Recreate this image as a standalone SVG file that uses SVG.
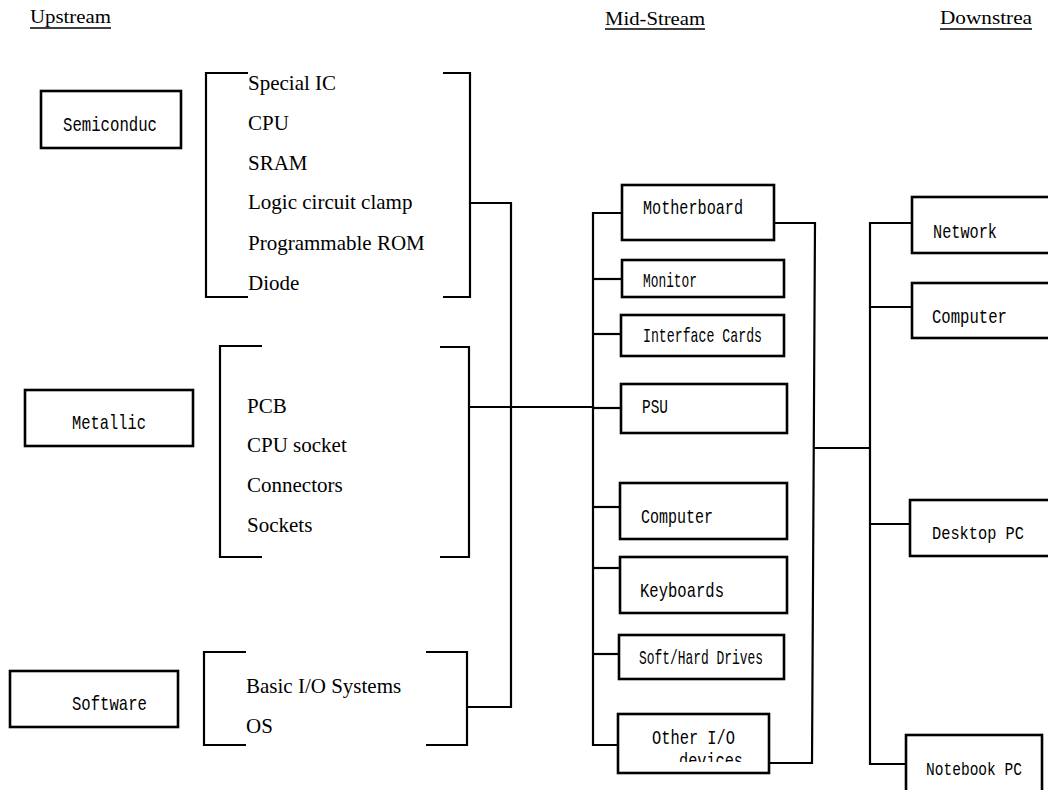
<svg xmlns="http://www.w3.org/2000/svg" width="1048" height="790" viewBox="0 0 1048 790">
  <defs>
    <style>
      .box { fill: #fff; stroke: #000; stroke-width: 2.6; }
      .wire { fill: none; stroke: #000; stroke-width: 2.2; }
      .brk { fill: none; stroke: #000; stroke-width: 2.2; }
      .mono { font-family: "Liberation Mono", "DejaVu Sans Mono", monospace; font-size: 21px; fill: #000; }
      .mono-edge { font-size: 18px; }
      .serif { font-family: "Liberation Serif", "Times New Roman", serif; font-size: 21px; fill: #000; }
      .head { font-family: "Liberation Serif", "Times New Roman", serif; font-size: 18px; fill: #000; }
      .uline { stroke: #000; stroke-width: 1.4; }
    </style>
    <clipPath id="clip-devices">
      <rect x="620" y="716" width="147" height="46"/>
    </clipPath>
  </defs>
  <rect width="1048" height="790" fill="#fff"/>

  <!-- column headings -->
  <g id="headings">
    <text class="head" x="30" y="23" textLength="81" lengthAdjust="spacingAndGlyphs">Upstream</text>
    <line class="uline" x1="30" y1="28" x2="111" y2="28"/>
    <text class="head" x="605" y="25" textLength="100" lengthAdjust="spacingAndGlyphs">Mid-Stream</text>
    <line class="uline" x1="605" y1="29" x2="705" y2="29"/>
    <text class="head" x="940" y="24" textLength="92" lengthAdjust="spacingAndGlyphs">Downstrea</text>
    <line class="uline" x1="940" y1="29" x2="1032" y2="29"/>
  </g>

  <!-- connectors -->
  <g id="connectors">
    <!-- semiconductor bracket -->
    <path class="brk" d="M248,73 H206 V297 H248"/>
    <path class="brk" d="M443,73 H470 V297 H443"/>
    <!-- metallic bracket -->
    <path class="brk" d="M262,346 H220 V557 H262"/>
    <path class="brk" d="M440,347 H469 V557 H440"/>
    <!-- software bracket -->
    <path class="brk" d="M246,652 H204 V745 H246"/>
    <path class="brk" d="M426,652 H467 V745 H426"/>
    <!-- upstream to mid-stream -->
    <path class="wire" d="M470,203 H511 V707 H467"/>
    <path class="wire" d="M469,407 H593"/>
    <!-- mid-stream left bus -->
    <path class="wire" d="M622,213 H593 V745 H618"/>
    <path class="wire" d="M593,279 H622"/>
    <path class="wire" d="M593,334 H621"/>
    <path class="wire" d="M593,408 H621"/>
    <path class="wire" d="M593,507 H620"/>
    <path class="wire" d="M593,568 H620"/>
    <path class="wire" d="M593,654 H619"/>
    <!-- mid-stream right bus -->
    <path class="wire" d="M774,223 H815 L812,763 H769"/>
    <path class="wire" d="M814,448 H870"/>
    <!-- downstream bus -->
    <path class="wire" d="M912,223 H870 V764 H906"/>
    <path class="wire" d="M870,307 H912"/>
    <path class="wire" d="M870,524 H910"/>
  </g>

  <!-- upstream -->
  <g id="node-semiconduc">
    <rect class="box" x="41" y="91" width="140" height="57"/>
    <text class="mono" x="63" y="131" textLength="94" lengthAdjust="spacingAndGlyphs">Semiconduc</text>
  </g>
  <g id="list-semiconduc">
    <text class="serif" x="248" y="90">Special IC</text>
    <text class="serif" x="248" y="130">CPU</text>
    <text class="serif" x="248" y="170">SRAM</text>
    <text class="serif" x="248" y="209">Logic circuit clamp</text>
    <text class="serif" x="248" y="250">Programmable ROM</text>
    <text class="serif" x="248" y="290">Diode</text>
  </g>
  <g id="node-metallic">
    <rect class="box" x="25" y="390" width="168" height="56"/>
    <text class="mono" x="72" y="429" textLength="74" lengthAdjust="spacingAndGlyphs">Metallic</text>
  </g>
  <g id="list-metallic">
    <text class="serif" x="247" y="413">PCB</text>
    <text class="serif" x="247" y="452">CPU socket</text>
    <text class="serif" x="247" y="492">Connectors</text>
    <text class="serif" x="247" y="532">Sockets</text>
  </g>
  <g id="node-software">
    <rect class="box" x="10" y="671" width="168" height="56"/>
    <text class="mono" x="72" y="710" textLength="75" lengthAdjust="spacingAndGlyphs">Software</text>
  </g>
  <g id="list-software">
    <text class="serif" x="246" y="693">Basic I/O Systems</text>
    <text class="serif" x="246" y="733">OS</text>
  </g>

  <!-- mid-stream -->
  <g id="node-motherboard">
    <rect class="box" x="622" y="185" width="152" height="55"/>
    <text class="mono" x="643" y="214" textLength="100" lengthAdjust="spacingAndGlyphs">Motherboard</text>
  </g>
  <g id="node-monitor">
    <rect class="box" x="622" y="260" width="162" height="37"/>
    <text class="mono" x="643" y="287" textLength="54" lengthAdjust="spacingAndGlyphs">Monitor</text>
  </g>
  <g id="node-interface-cards">
    <rect class="box" x="621" y="315" width="163" height="41"/>
    <text class="mono" x="643" y="342" textLength="119" lengthAdjust="spacingAndGlyphs">Interface Cards</text>
  </g>
  <g id="node-psu">
    <rect class="box" x="621" y="384" width="166" height="49"/>
    <text class="mono" x="642" y="413" textLength="26" lengthAdjust="spacingAndGlyphs">PSU</text>
  </g>
  <g id="node-computer-mid">
    <rect class="box" x="620" y="483" width="167" height="56"/>
    <text class="mono" x="641" y="523" textLength="72" lengthAdjust="spacingAndGlyphs">Computer</text>
  </g>
  <g id="node-keyboards">
    <rect class="box" x="620" y="557" width="167" height="56"/>
    <text class="mono" x="640" y="597" textLength="84" lengthAdjust="spacingAndGlyphs">Keyboards</text>
  </g>
  <g id="node-drives">
    <rect class="box" x="619" y="635" width="165" height="44"/>
    <text class="mono" x="639" y="664" textLength="124" lengthAdjust="spacingAndGlyphs">Soft/Hard Drives</text>
  </g>
  <g id="node-other-io">
    <rect class="box" x="618" y="714" width="151" height="59"/>
    <text class="mono" x="652" y="744" textLength="83" lengthAdjust="spacingAndGlyphs">Other I/O</text>
    <text class="mono" x="679" y="767" textLength="64" lengthAdjust="spacingAndGlyphs" clip-path="url(#clip-devices)">devices</text>
  </g>

  <!-- downstream -->
  <g id="node-network">
    <rect class="box" x="912" y="197" width="150" height="56"/>
    <text class="mono" x="933" y="238" textLength="64" lengthAdjust="spacingAndGlyphs">Network</text>
  </g>
  <g id="node-computer-down">
    <rect class="box" x="912" y="283" width="150" height="55"/>
    <text class="mono" x="932" y="323" textLength="75" lengthAdjust="spacingAndGlyphs">Computer</text>
  </g>
  <g id="node-desktop">
    <rect class="box" x="910" y="500" width="150" height="56"/>
    <text class="mono mono-edge" x="932" y="539" textLength="92" lengthAdjust="spacingAndGlyphs">Desktop PC</text>
  </g>
  <g id="node-notebook">
    <rect class="box" x="906" y="735" width="136" height="70"/>
    <text class="mono mono-edge" x="926" y="775" textLength="96" lengthAdjust="spacingAndGlyphs">Notebook PC</text>
  </g>
</svg>
